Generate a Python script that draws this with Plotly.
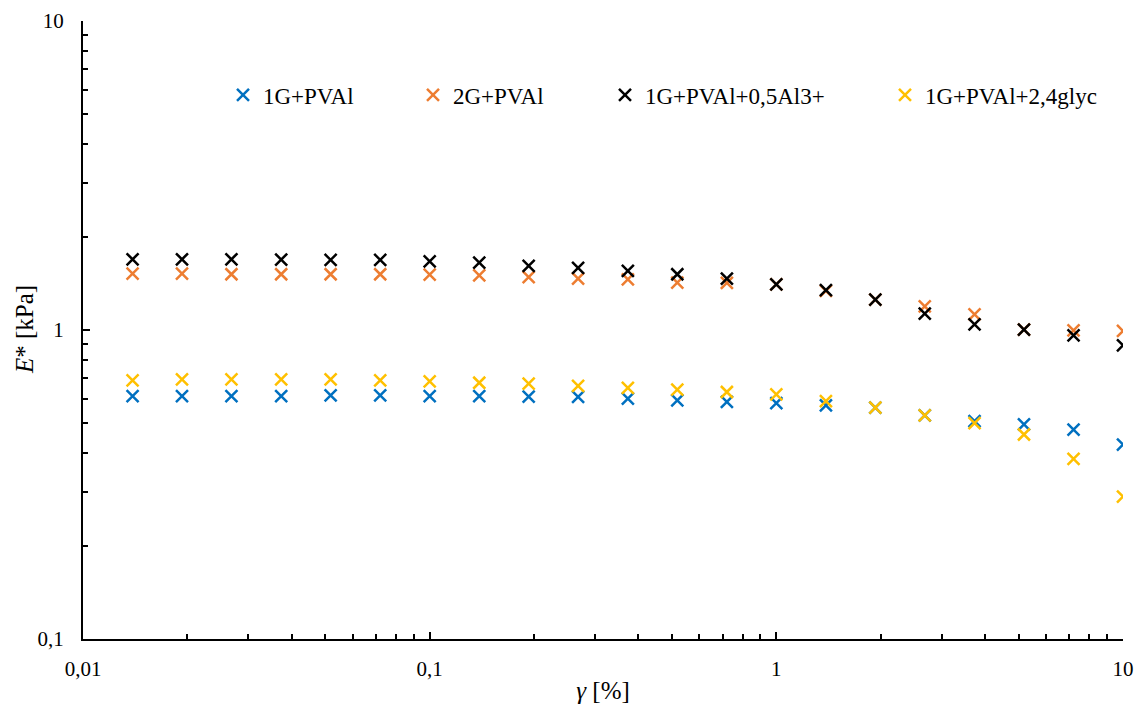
import plotly.graph_objects as go

# strain gamma [%]
gamma = [0.0139, 0.0193, 0.0268, 0.0373, 0.0518, 0.0720, 0.100, 0.139, 0.193, 0.268,
         0.373, 0.518, 0.720, 1.00, 1.39, 1.93, 2.68, 3.73, 5.18, 7.20, 10.0]

# E* [kPa]
e_1g = [0.611, 0.611, 0.611, 0.611, 0.614, 0.614, 0.611, 0.611, 0.609, 0.607,
        0.600, 0.592, 0.585, 0.580, 0.570, 0.561, 0.529, 0.507, 0.495, 0.476, 0.426]
e_2g = [1.523, 1.523, 1.515, 1.515, 1.515, 1.515, 1.511, 1.503, 1.484, 1.467,
        1.457, 1.424, 1.420, 1.406, 1.338, 1.254, 1.193, 1.124, 1.003, 0.998, 0.993]
e_al = [1.694, 1.694, 1.694, 1.690, 1.685, 1.685, 1.669, 1.653, 1.614, 1.588,
        1.553, 1.515, 1.467, 1.406, 1.345, 1.254, 1.130, 1.043, 1.003, 0.961, 0.892]
e_gl = [0.687, 0.692, 0.692, 0.692, 0.692, 0.687, 0.682, 0.675, 0.671, 0.659,
        0.650, 0.641, 0.630, 0.619, 0.589, 0.561, 0.529, 0.500, 0.459, 0.383, 0.289]

series_names = ["1G+PVAl", "2G+PVAl", "1G+PVAl+0,5Al3+", "1G+PVAl+2,4glyc"]
series_vals = [e_1g, e_2g, e_al, e_gl]
colors = ["#0070C0", "#ED7D31", "#000000", "#FFC000"]

x_tickvals = [0.01, 0.1, 1, 10]
x_ticktext = ["0,01", "0,1", "1", "10"]
y_tickvals = [0.1, 1, 10]
y_ticktext = ["0,1", "1", "10"]

FONT = "Liberation Serif, Times New Roman, serif"
FS_TICK = 21
FS_LEG = 23
FS_TITLE = 25

fig = go.Figure()
legend_ids = ["legend", "legend2", "legend3", "legend4"]
for name, vals, col, lg in zip(series_names, series_vals, colors, legend_ids):
    fig.add_trace(go.Scatter(
        x=gamma, y=vals, mode="markers", name=name, legend=lg,
        marker=dict(symbol="x-thin", size=12, color=col,
                    line=dict(color=col, width=2.5)),
    ))

minor_x = [m * 10 ** e for e in (-2, -1, 0) for m in range(2, 10)]
minor_y = [m * 10 ** e for e in (-1, 0) for m in range(2, 10)]

L, R, T, B = 83, 16, 21, 67
W, H = 1139, 706
pw, ph = W - L - R, H - T - B

def lx(px):
    return (px - L) / pw

def ly(py):
    return (H - B - py) / ph

legend_x_px = [243, 433, 625, 905]
common_legend = dict(orientation="h", yanchor="middle", xanchor="left",
                     bgcolor="rgba(0,0,0,0)", font=dict(family=FONT, size=FS_LEG, color="#000"),
                     itemwidth=30)
layout_legends = {}
for lg, px in zip(legend_ids, legend_x_px):
    layout_legends[lg] = dict(common_legend, x=lx(px - 20), y=ly(95))

fig.update_layout(
    width=W, height=H,
    margin=dict(l=L, r=R, t=T, b=B, autoexpand=False),
    paper_bgcolor="white", plot_bgcolor="white",
    font=dict(family=FONT, size=FS_TICK, color="#000"),
    showlegend=True,
    **layout_legends,
)

fig.add_annotation(
    text="<i>E</i>* [kPa]", textangle=-90, showarrow=False,
    xref="paper", yref="paper", x=lx(24), y=0.5, xanchor="center", yanchor="middle",
    font=dict(family=FONT, size=FS_TITLE, color="#000"),
)

fig.update_xaxes(
    type="log", range=[-2, 1], showgrid=False, zeroline=False,
    showline=True, linecolor="#000", linewidth=2,
    tickmode="array", tickvals=x_tickvals, ticktext=x_ticktext,
    ticks="inside", ticklen=7, tickwidth=2, tickcolor="#000",
    ticklabelstandoff=10,
    tickfont=dict(family=FONT, size=FS_TICK, color="#000"),
    minor=dict(tickmode="array", tickvals=minor_x, ticks="inside", ticklen=5,
               tickwidth=1.5, tickcolor="#000", showgrid=False),
    title=dict(text="<i>γ</i> [%]", font=dict(family=FONT, size=FS_TITLE, color="#000"), standoff=1),
    automargin=False,
)
fig.update_yaxes(
    type="log", range=[-1, 1], showgrid=False, zeroline=False,
    showline=True, linecolor="#000", linewidth=2,
    tickmode="array", tickvals=y_tickvals, ticktext=y_ticktext,
    ticks="inside", ticklen=7, tickwidth=2, tickcolor="#000",
    ticklabelstandoff=13,
    tickfont=dict(family=FONT, size=FS_TICK, color="#000"),
    minor=dict(tickmode="array", tickvals=minor_y, ticks="inside", ticklen=5,
               tickwidth=1.5, tickcolor="#000", showgrid=False),
    automargin=False,
)

fig.write_html("out.html")
